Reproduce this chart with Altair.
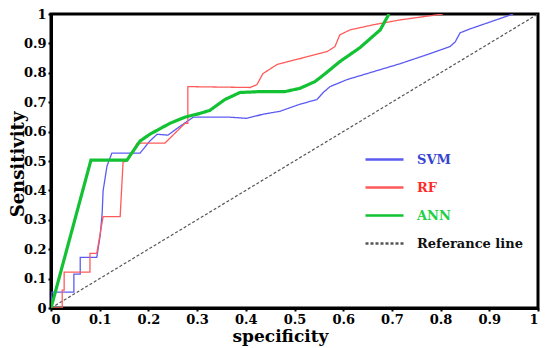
import altair as alt
import pandas as pd

models = ["SVM", "RF", "ANN", "Referance line"]
line_colors = ["#5b5bf2", "#ff5a5a", "#12c233", "#555555"]
label_colors = ["#3545d0", "#ff2a2a", "#1fcf48", "#111111"]

svm_x = [0, 0.002, 0.047, 0.047, 0.060, 0.060, 0.094, 0.101, 0.105, 0.107, 0.115, 0.125, 0.183, 0.203,
         0.218, 0.240, 0.265, 0.292, 0.368, 0.402, 0.435, 0.470, 0.511, 0.546, 0.559, 0.573, 0.608,
         0.717, 0.778, 0.819, 0.830, 0.840, 0.860, 0.949]
svm_y = [0, 0.054, 0.054, 0.115, 0.115, 0.172, 0.172, 0.247, 0.321, 0.399, 0.483, 0.527, 0.527, 0.568,
         0.591, 0.588, 0.618, 0.649, 0.649, 0.645, 0.659, 0.669, 0.693, 0.709, 0.733, 0.753, 0.777,
         0.831, 0.865, 0.889, 0.905, 0.936, 0.949, 1.0]

rf_x = [0, 0.023, 0.023, 0.027, 0.027, 0.080, 0.080, 0.094, 0.107, 0.142, 0.148, 0.156, 0.177, 0.234,
        0.275, 0.281, 0.281, 0.409, 0.423, 0.435, 0.464, 0.511, 0.567, 0.583, 0.593, 0.614, 0.661,
        0.717, 0.805]
rf_y = [0, 0, 0.061, 0.061, 0.122, 0.122, 0.186, 0.186, 0.311, 0.311, 0.497, 0.500, 0.561, 0.561,
        0.628, 0.628, 0.753, 0.750, 0.760, 0.797, 0.828, 0.848, 0.872, 0.889, 0.929, 0.946, 0.963,
        0.980, 1.0]

ann_x = [0, 0.082, 0.156, 0.183, 0.203, 0.244, 0.275, 0.306, 0.326, 0.357, 0.388, 0.429, 0.480, 0.511,
         0.542, 0.563, 0.593, 0.634, 0.676, 0.694]
ann_y = [0, 0.503, 0.503, 0.568, 0.591, 0.628, 0.649, 0.662, 0.672, 0.709, 0.733, 0.736, 0.736, 0.747,
         0.770, 0.797, 0.838, 0.885, 0.946, 1.0]

ref_x = [0, 1]
ref_y = [0, 1]

tick_values = [0, 0.1, 0.2, 0.3, 0.4, 0.5, 0.6, 0.7, 0.8, 0.9, 1]

rows = []
for name, xs, ys in [("Referance line", ref_x, ref_y), ("SVM", svm_x, svm_y),
                     ("RF", rf_x, rf_y), ("ANN", ann_x, ann_y)]:
    for i, (a, b) in enumerate(zip(xs, ys)):
        rows.append({"spec": a, "sens": b, "model": name, "ord": i})
df = pd.DataFrame(rows)

font = "DejaVu Serif"
color_expr = ("datum.label == 'SVM' ? '%s' : datum.label == 'RF' ? '%s' : "
              "datum.label == 'ANN' ? '%s' : '%s'") % tuple(label_colors)

legend = alt.Legend(
    title=None, orient="none", legendX=313, legendY=125,
    symbolType="stroke", symbolSize=1444, symbolStrokeWidth=2.6,
    labelFont=font, labelFontSize=13, labelFontWeight="bold",
    labelColor={"expr": color_expr}, labelOffset=12, rowPadding=-3, padding=0,
)

x_enc = alt.X("spec:Q", scale=alt.Scale(domain=[0, 1], nice=False),
              axis=alt.Axis(values=tick_values, format="~g", title="specificity",
                            titleX=229, titleY=28, titleAnchor="middle", titleBaseline="middle",
                            titleFontSize=17))
y_enc = alt.Y("sens:Q", scale=alt.Scale(domain=[0, 1], nice=False),
              axis=alt.Axis(values=tick_values, format="~g", title="Sensitivity",
                            titleX=-33, titleY=150, titleAngle=-90, titleAnchor="middle",
                            titleBaseline="middle", titleAlign="center", titleFontSize=18))
color_enc = alt.Color("model:N", scale=alt.Scale(domain=models, range=line_colors), legend=legend)
dash_enc = alt.StrokeDash("model:N", scale=alt.Scale(domain=models,
                          range=[[1, 0], [1, 0], [1, 0], [3, 2]]), legend=legend)

base = alt.Chart(df).encode(x=x_enc, y=y_enc, color=color_enc, strokeDash=dash_enc, order="ord:Q")

ref_layer = base.mark_line(clip=True, strokeWidth=1.2).transform_filter(
    alt.datum.model == "Referance line")
thin_layer = base.mark_line(clip=True, strokeWidth=1.3).transform_filter(
    (alt.datum.model == "SVM") | (alt.datum.model == "RF"))
ann_layer = base.mark_line(clip=True, strokeWidth=3.2).transform_filter(
    alt.datum.model == "ANN")

chart = alt.layer(ref_layer, thin_layer, ann_layer).properties(
    width=487, height=294,
    autosize=alt.AutoSizeParams(type="none"),
    padding={"left": 43, "top": 6, "right": 4, "bottom": 40},
).configure_view(
    stroke="black", strokeWidth=3
).configure_axis(
    grid=False, domainColor="black", domainWidth=3, tickColor="black", tickSize=3, tickWidth=2,
    labelFont=font, labelFontSize=13, labelFontWeight="bold", labelColor="black", labelPadding=2,
    titleFont=font, titleFontWeight="bold", titleColor="black",
)

chart.save("out.html", embed_options={"renderer": "svg", "actions": False})
